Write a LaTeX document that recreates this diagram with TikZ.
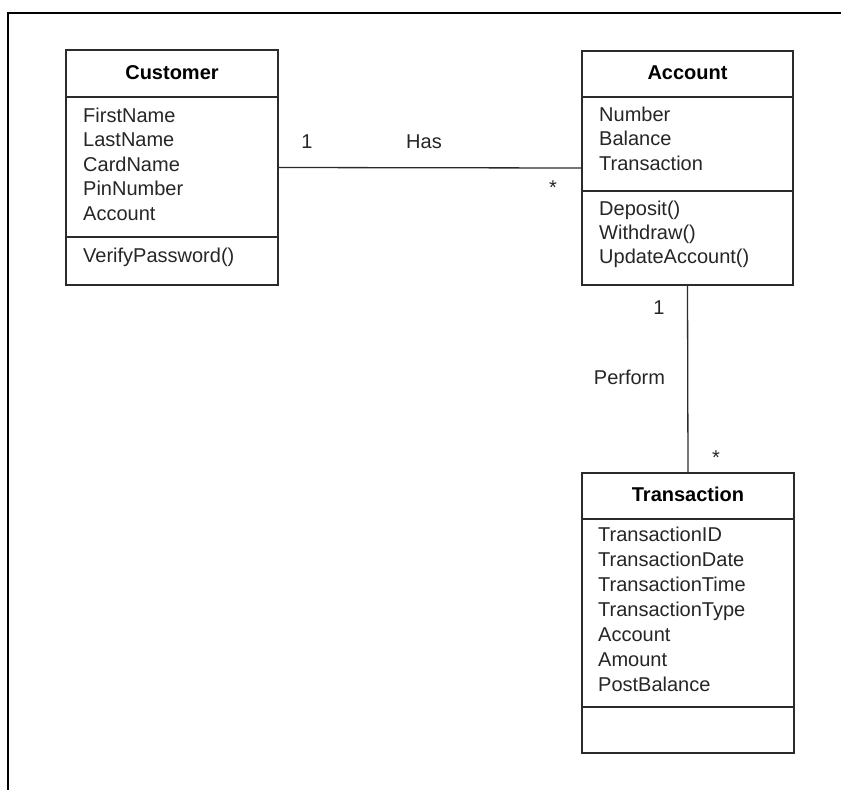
\documentclass[tikz,border=0pt]{standalone}
\usepackage{fontspec}
\setmainfont{Liberation Sans}
\definecolor{linegray}{HTML}{2B2B2B}
\definecolor{textgray}{HTML}{262626}
\newcommand{\umlfont}{\fontsize{20}{24}\selectfont}
\tikzset{
  frame/.style={draw=black, line width=2pt},
  classbox/.style={draw=linegray, line width=1.3pt, inner sep=0pt, fill=white},
  divider/.style={draw=linegray, line width=1.3pt},
  head/.style={anchor=base, inner sep=0pt, font=\umlfont\bfseries, text=black},
  member/.style={anchor=base west, inner sep=0pt, font=\umlfont, text=textgray},
  assoc/.style={draw=linegray, line width=1.3pt},
  tag/.style={anchor=base, inner sep=0pt, font=\umlfont, text=textgray},
}
\begin{document}
\begin{tikzpicture}[x=1pt, y=-1pt]
\useasboundingbox (0,0) rectangle (841,790);

% page frame (left and top edges only)
\draw[frame] (8,790) -- (8,13) -- (841,13);

% ---- class boxes ----
\node[classbox, minimum width=212pt, minimum height=235pt] (customer) at (172,167.5) {};
\node[classbox, minimum width=211pt, minimum height=234pt] (account) at (687.5,168) {};
\node[classbox, minimum width=212pt, minimum height=280pt] (transaction) at (688,613) {};

% compartment separators
\draw[divider] (customer.west |- 0,97) -- (customer.east |- 0,97);
\draw[divider] (customer.west |- 0,237) -- (customer.east |- 0,237);
\draw[divider] (account.west |- 0,97) -- (account.east |- 0,97);
\draw[divider] (account.west |- 0,191) -- (account.east |- 0,191);
\draw[divider] (transaction.west |- 0,519) -- (transaction.east |- 0,519);
\draw[divider] (transaction.west |- 0,707) -- (transaction.east |- 0,707);

% ---- class names ----
\node[head] (customer-name) at (172,79) {Customer};
\node[head] (account-name) at (687.5,79.5) {Account};
\node[head] (transaction-name) at (688,501.5) {Transaction};

% ---- Customer members ----
\foreach \txt [count=\i] in {FirstName, LastName, CardName, PinNumber, Account}
  \node[member] (cust-attr-\i) at (83,{122+24.5*(\i-1)}) {\txt};
\node[member] (cust-op-1) at (83,262) {VerifyPassword()};

% ---- Account members ----
\foreach \txt [count=\i] in {Number, Balance, Transaction}
  \node[member] (acc-attr-\i) at (599,{121+24.5*(\i-1)}) {\txt};
\foreach \txt [count=\i] in {Deposit(), Withdraw(), UpdateAccount()}
  \node[member] (acc-op-\i) at (599,{215+24*(\i-1)}) {\txt};

% ---- Transaction members ----
\foreach \txt [count=\i] in {TransactionID, TransactionDate, TransactionTime,
    TransactionType, Account, Amount, PostBalance}
  \node[member] (trn-attr-\i) at (598,{541+25*(\i-1)}) {\txt};

% ---- associations ----
\draw[assoc] (customer.east) -- (account.west);
\draw[assoc] (account.south) -- (transaction.north);

% association labels and multiplicities
\node[tag] (has-one) at (307,148) {1};
\node[tag] (has-name) at (424,148) {Has};
\node[tag] (has-many) at (553,194) {*};
\node[tag] (perf-one) at (659,314) {1};
\node[tag] (perf-name) at (629.5,384) {Perform};
\node[tag] (perf-many) at (716,464) {*};
\end{tikzpicture}
\end{document}
